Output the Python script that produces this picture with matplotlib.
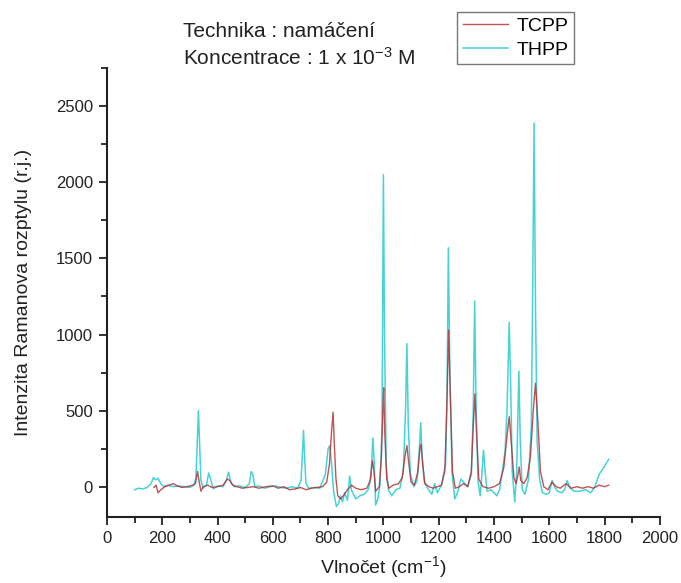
import matplotlib.pyplot as plt
import numpy as np
from matplotlib.ticker import MultipleLocator

plt.rcParams['font.family'] = ['Liberation Sans', 'DejaVu Sans']
plt.rcParams['mathtext.fontset'] = 'custom'
plt.rcParams['mathtext.rm'] = 'Liberation Sans'
plt.rcParams['mathtext.it'] = 'Liberation Sans'
plt.rcParams['mathtext.default'] = 'rm'

# Raman spectrum, THPP (wavenumber in cm-1, intensity in r.j.)
thpp_x = [100, 115, 130, 145, 160, 168, 175, 185, 195, 205, 220, 240, 260, 280, 300,
          315, 322, 327, 331, 335, 340, 348, 360, 368, 375, 385, 400, 420, 432, 440,
          448, 460, 480, 500, 515, 522, 528, 535, 550, 570, 590, 610, 630, 650, 670,
          690, 702, 708, 711, 715, 720, 730, 750, 770, 790, 800, 806, 812, 820, 830,
          838, 845, 852, 860, 870, 878, 884, 892, 900, 915, 930, 945, 955, 962, 967,
          972, 980, 988, 995, 1000, 1004, 1010, 1018, 1030, 1045, 1060, 1072, 1080, 1085, 1090,
          1098, 1110, 1122, 1130, 1135, 1140, 1148, 1160, 1175, 1185, 1195, 1210, 1225, 1230, 1235,
          1240, 1248, 1258, 1268, 1280, 1295, 1305, 1318, 1325, 1330, 1335, 1342, 1350, 1357, 1362,
          1368, 1375, 1390, 1400, 1410, 1420, 1430, 1440, 1447, 1455, 1460, 1466, 1475, 1482, 1490,
          1495, 1502, 1512, 1525, 1535, 1540, 1545, 1550, 1556, 1565, 1575, 1590, 1600, 1610, 1618,
          1630, 1645, 1655, 1665, 1675, 1690, 1710, 1730, 1750, 1765, 1780, 1795, 1805, 1815]
thpp_y = [-20, -10, -15, -5, 20, 60, 45, 55, 20, 0, 10, 0, 5, 0, -5,
          10, 60, 300, 500, 300, 40, -10, 10, 90, 50, -15, 5, 0, 40, 95,
          30, 0, 5, -5, 20, 100, 80, 0, 5, -10, 0, 5, -5, -10, 0,
          -10, 40, 250, 370, 200, 20, -10, -5, -10, 80, 250, 270, 160, -30, -130,
          -110, -60, -100, -40, -90, 70, -20, -50, -80, -60, -50, -20, 60, 320, 150,
          -120, -80, 20, 400, 2050, 1000, 150, -20, -60, -20, -10, 100, 500, 940, 400,
          80, 0, 40, 250, 420, 200, 30, -10, -50, 20, -40, 10, 150, 600, 1570,
          800, 100, -80, -40, 50, 20, 0, 80, 500, 1220, 550, 40, -60, 100, 240,
          100, -30, -20, -40, -60, -20, 100, 230, 500, 1080, 700, 100, -100, 100, 760,
          300, -20, -50, 50, 400, 1300, 2390, 1200, 300, 50, -40, -50, -40, 40, 0,
          -30, -40, -20, 40, -10, -30, -30, -20, -40, 0, 80, 120, 150, 180]

# Raman spectrum, TCPP
tcpp_x = [170, 178, 185, 195, 210, 225, 240, 255, 270, 290, 310, 320, 328, 334, 340,
          348, 365, 380, 400, 420, 435, 445, 455, 470, 490, 510, 530, 550, 575, 600,
          620, 640, 660, 680, 700, 720, 740, 760, 780, 795, 805, 812, 818, 822, 828,
          835, 845, 855, 870, 885, 900, 920, 940, 952, 960, 966, 972, 985, 993, 998,
          1001, 1005, 1012, 1020, 1035, 1055, 1068, 1078, 1085, 1092, 1100, 1112, 1125, 1132, 1136,
          1142, 1150, 1165, 1180, 1195, 1210, 1222, 1229, 1236, 1242, 1250, 1260, 1275, 1290, 1305,
          1318, 1325, 1331, 1337, 1345, 1360, 1380, 1400, 1420, 1435, 1448, 1455, 1462, 1472, 1480,
          1487, 1491, 1497, 1508, 1520, 1532, 1542, 1550, 1558, 1568, 1580, 1595, 1610, 1625, 1640,
          1660, 1680, 1700, 1720, 1740, 1760, 1780, 1800, 1815]
tcpp_y = [-5, 10, -40, -20, 0, 10, 20, 5, -5, 0, 10, 20, 100, 30, -30,
          0, 10, -5, 0, 10, 50, 40, 10, 0, -10, -5, 0, -10, 0, 5,
          -10, 0, -20, -15, -5, -20, -10, -5, 0, 30, 150, 350, 490, 300, 60,
          -60, -80, -60, -20, 10, -10, -20, -10, 40, 170, 100, -30, 0, 200, 500,
          650, 350, 50, -10, 10, 20, 60, 200, 270, 150, 30, 10, 100, 250, 280,
          150, 20, 0, -10, 0, 10, 100, 500, 1030, 600, 100, -10, 0, 20, 0,
          100, 400, 610, 350, 50, 0, -10, 0, 20, 120, 350, 460, 300, 60, 20,
          80, 130, 40, 20, 60, 200, 500, 680, 450, 100, 0, -20, 30, 0, -10,
          20, -10, 0, -10, 0, -10, 10, 0, 10]

fig = plt.figure(figsize=(6.81, 5.83), dpi=100)
ax = fig.add_axes([0.157, 0.113, 0.812, 0.770])

ax.plot(thpp_x, thpp_y, color='#45d3d8', lw=1.1, label='THPP', zorder=2)
ax.plot(tcpp_x, tcpp_y, color='#b02a2c', lw=1.0, alpha=0.8, label='TCPP', zorder=3)

ax.set_xlim(0, 2000)
ax.set_ylim(-200, 2750)
ax.xaxis.set_major_locator(MultipleLocator(200))
ax.xaxis.set_minor_locator(MultipleLocator(100))
ax.yaxis.set_major_locator(MultipleLocator(500))
ax.yaxis.set_minor_locator(MultipleLocator(250))

for side in ('top', 'right'):
    ax.spines[side].set_visible(False)
for side in ('left', 'bottom'):
    ax.spines[side].set_linewidth(1.5)
    ax.spines[side].set_color('#222222')

ax.tick_params(which='major', direction='out', length=6, width=1.3, labelsize=12,
               colors='#222222', pad=4)
ax.tick_params(which='minor', direction='out', length=4, width=1.3, colors='#222222')

ax.set_xlabel('Vlnočet (cm$^{-1}$)', fontsize=14, labelpad=6, color='#222222')
ax.set_ylabel('Intenzita Ramanova rozptylu (r.j.)', fontsize=14, labelpad=17,
              color='#222222')

fig.text(0.269, 0.946, 'Technika : namáčení', fontsize=15, va='center', color='#222222')
fig.text(0.269, 0.900, 'Koncentrace : 1 x 10$^{-3}$ M', fontsize=15, va='center',
         color='#222222')

handles, labels = ax.get_legend_handles_labels()
leg = fig.legend(handles[::-1], labels[::-1], loc='upper left',
                 bbox_to_anchor=(0.671, 0.980), fontsize=14, frameon=True,
                 fancybox=False, handlelength=2.3, handletextpad=0.45,
                 borderpad=0.3, labelspacing=0.3, borderaxespad=0)
leg.get_frame().set_edgecolor('#555555')
leg.get_frame().set_linewidth(1.0)

fig.savefig('out.png', dpi=100)
